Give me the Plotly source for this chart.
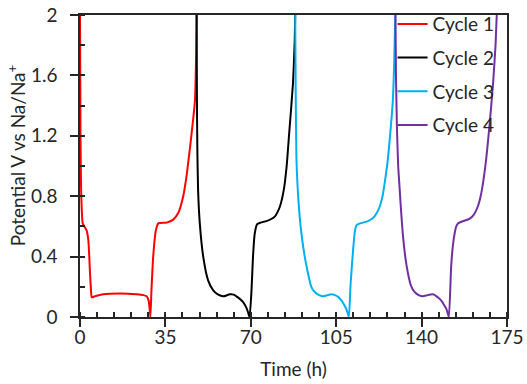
import plotly.graph_objects as go

# Galvanostatic cycling: time (h) vs potential (V vs Na/Na+)
cycle1_t = [0.0, 0.2, 0.45, 0.75, 1.1, 1.8, 2.7, 3.4, 3.8, 4.1, 4.5, 4.8, 6.1, 9.5, 16.4, 23.2, 26.0, 27.3, 28.1, 28.5, 28.85,
            29.3, 30.0, 31.1, 32.1, 35.5, 38.2, 40.3, 42.3, 43.8, 45.7, 47.1, 47.6, 47.8]
cycle1_v = [2.0, 1.2, 0.85, 0.7, 0.62, 0.6, 0.574, 0.51, 0.4, 0.29, 0.18, 0.13, 0.137, 0.15, 0.155, 0.15, 0.145, 0.137, 0.11, 0.06, 0.0,
            0.18, 0.4, 0.574, 0.62, 0.625, 0.645, 0.69, 0.8, 0.95, 1.21, 1.43, 1.74, 2.0]

cycle2_t = [47.8, 47.9, 48.1, 48.4, 49.1, 50.5, 52.5, 54.6, 56.5, 58.7, 61.4, 63.0, 64.1, 65.5, 66.8, 68.2, 68.9, 69.5,
            70.3, 70.9, 71.6, 72.6, 74.0, 76.4, 79.8, 81.9, 83.5, 84.7, 85.7, 87.3, 88.0, 88.2]
cycle2_v = [2.0, 1.5, 1.1, 0.84, 0.62, 0.4, 0.243, 0.177, 0.15, 0.137, 0.15, 0.148, 0.137, 0.12, 0.1, 0.06, 0.03, 0.0,
            0.18, 0.4, 0.55, 0.615, 0.625, 0.635, 0.665, 0.73, 0.84, 1.0, 1.21, 1.55, 1.83, 2.0]

cycle3_t = [88.2, 88.4, 88.7, 89.4, 90.05, 91.0, 92.1, 93.3, 94.8, 96.5, 98.0, 99.6, 101.5, 103.0, 104.5, 106.0, 107.1, 108.3, 109.2, 109.8, 110.2,
            110.9, 111.9, 112.6, 113.3, 114.5, 116.0, 118.0, 120.1, 121.5, 122.8, 124.0, 124.8, 126.0, 126.9, 128.2, 128.8, 129.2]
cycle3_v = [2.0, 1.5, 1.05, 0.8, 0.66, 0.52, 0.4, 0.3, 0.2, 0.16, 0.145, 0.137, 0.145, 0.15, 0.145, 0.13, 0.11, 0.08, 0.05, 0.02, 0.0,
            0.22, 0.44, 0.56, 0.607, 0.618, 0.625, 0.635, 0.655, 0.685, 0.73, 0.8, 0.88, 1.02, 1.17, 1.43, 1.7, 2.0]

cycle4_t = [129.3, 129.5, 129.9, 130.4, 131.0, 131.6, 132.3, 133.3, 134.4, 135.6, 137.1, 138.8, 140.5, 142.5, 144.6, 146.3, 148.0, 149.2, 150.1, 150.8, 151.2,
            152.1, 152.8, 153.5, 154.2, 154.9, 157.0, 159.6, 161.5, 163.0, 164.2, 165.1, 166.5, 167.9, 169.3, 170.3, 170.8]
cycle4_v = [2.0, 1.6, 1.25, 1.0, 0.85, 0.7, 0.55, 0.4, 0.29, 0.21, 0.166, 0.145, 0.137, 0.145, 0.15, 0.135, 0.11, 0.08, 0.055, 0.02, 0.0,
            0.33, 0.47, 0.55, 0.6, 0.62, 0.635, 0.65, 0.68, 0.73, 0.8, 0.88, 1.05, 1.28, 1.55, 1.8, 2.0]

series_names = ["Cycle 1", "Cycle 2", "Cycle 3", "Cycle 4"]
series_colors = ["#FF0000", "#000000", "#00B0F0", "#7030A0"]
series_t = [cycle1_t, cycle2_t, cycle3_t, cycle4_t]
series_v = [cycle1_v, cycle2_v, cycle3_v, cycle4_v]

x_ticks = [0, 35, 70, 105, 140, 175]
y_ticks = [0, 0.4, 0.8, 1.2, 1.6, 2]

FONT = "Lato, 'Open Sans', sans-serif"
FS = 19
TXT = "#262626"
AX = "#262626"

fig = go.Figure()
for name, color, t, v in zip(series_names, series_colors, series_t, series_v):
    fig.add_trace(go.Scatter(
        x=t, y=v, name=name, mode="lines",
        line=dict(color=color, width=2, shape="spline", smoothing=0.5),
        legendgroup=name,
    ))

# empty trace that carries the overlay axes used for the inner half of major ticks
fig.add_trace(go.Scatter(x=[None], y=[None], xaxis="x2", yaxis="y2",
                         showlegend=False, hoverinfo="skip"))

fig.update_layout(
    width=527, height=384,
    margin=dict(l=80, r=19.5, t=14.7, b=67.3, autoexpand=False),
    paper_bgcolor="white", plot_bgcolor="white",
    font=dict(family=FONT, size=FS, color=TXT),
    showlegend=True,
    legend=dict(x=0.732, y=1.033, xanchor="left", yanchor="top",
                bgcolor="rgba(0,0,0,0)", borderwidth=0,
                font=dict(family=FONT, size=FS, color=TXT),
                tracegroupgap=6, itemwidth=30),
    xaxis=dict(range=[0, 175], tickvals=x_ticks, ticks="outside", ticklen=8, tickwidth=1.5,
               tickcolor=AX, showline=True, linecolor=AX, linewidth=1.5, mirror=True,
               showgrid=False, zeroline=False, ticklabelstandoff=-6,
               minor=dict(dtick=7, tick0=0, ticks="inside", ticklen=5, tickwidth=1.5, tickcolor=AX, showgrid=False),
               title=dict(text="Time (h)", font=dict(family=FONT, size=FS, color=TXT), standoff=16)),
    yaxis=dict(range=[0, 2], tickvals=y_ticks, ticktext=["0", "0.4", "0.8", "1.2", "1.6", "2"],
               ticks="outside", ticklen=8, tickwidth=1.5,
               tickcolor=AX, showline=True, linecolor=AX, linewidth=1.5, mirror=True,
               showgrid=False, zeroline=False, ticklabelstandoff=9,
               minor=dict(dtick=0.2, tick0=0, ticks="inside", ticklen=5, tickwidth=1.5, tickcolor=AX, showgrid=False)),
    xaxis2=dict(range=[0, 175], overlaying="x", side="bottom", tickvals=x_ticks, ticks="inside",
                ticklen=5, tickwidth=1.5, tickcolor=AX, showticklabels=False, showline=False,
                showgrid=False, zeroline=False),
    yaxis2=dict(range=[0, 2], overlaying="y", side="left", tickvals=y_ticks, ticks="inside",
                ticklen=5, tickwidth=1.5, tickcolor=AX, showticklabels=False, showline=False,
                showgrid=False, zeroline=False),
    annotations=[dict(text="Potential V vs Na/Na<sup>+</sup>", textangle=-90,
                      xref="paper", yref="paper", x=-0.148, y=0.535,
                      xanchor="center", yanchor="middle", showarrow=False,
                      font=dict(family=FONT, size=FS, color=TXT))],
)

fig.write_html("out.html")
